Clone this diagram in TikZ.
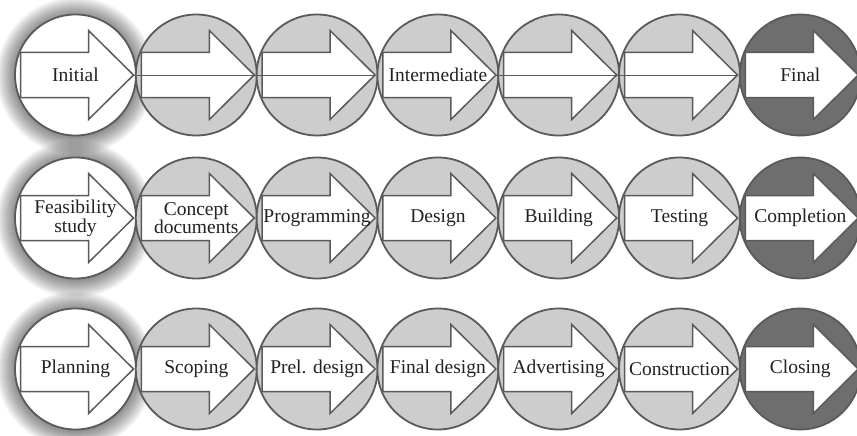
\documentclass[tikz,border=0pt]{standalone}
\usepackage{fontspec}
\setmainfont{Liberation Serif}
\definecolor{edge}{HTML}{5A5A5A}
\definecolor{lightfill}{HTML}{CDCDCD}
\definecolor{darkfill}{HTML}{6E6E6E}
\definecolor{txt}{HTML}{222222}
\tikzset{
  disc/.style={circle, draw=edge, line width=1.8pt, minimum size=121pt, inner sep=0pt},
  arrowshape/.style={draw=edge, line width=1.5pt, fill=white, line join=miter},
  lbl/.style={font=\fontsize{19.5}{17}\selectfont, align=center, inner sep=0pt, text=txt},
  midline/.style={draw=edge, line width=0.9pt},
  glowring/.style={fill=black, opacity=0.028},
}
\newcommand\stagedisc[5]{% name, cx, cy, fill, label
  \node[disc, fill=#4] (#1) at (#2,#3) {};
  \draw[arrowshape, shift={(#2,#3)}] (-55,-22.5) -- (13,-22.5) -- (13,-44.5) -- (58,0)
     -- (13,44.5) -- (13,22.5) -- (-55,22.5) -- cycle;
  \coordinate (#1-tip) at (#2+58,#3);
  \node[lbl] (#1-t) at (#1) {#5};
}
\newcommand\glowat[2]{%
  \foreach \g [evaluate=\g as \r using 60+\g] in {1,...,19} {
    \fill[glowring] (#1,#2+1) circle[radius=\r pt];
  }
}
\begin{document}
\begin{tikzpicture}[x=1pt, y=-1pt]
  \fill[white] (0,0) rectangle (857,436);
  \useasboundingbox (0,0) rectangle (857,436);
  % glows behind the first disc of each row
  \glowat{75.5}{75}
  \glowat{75.5}{218}
  \glowat{75.5}{369}
  % row 1
  \stagedisc{r1c1}{75.5}{75}{white}{Initial}
  \stagedisc{r1c2}{196.3}{75}{lightfill}{}
  \stagedisc{r1c3}{317.1}{75}{lightfill}{}
  \stagedisc{r1c4}{437.9}{75}{lightfill}{Intermediate}
  \stagedisc{r1c5}{558.7}{75}{lightfill}{}
  \stagedisc{r1c6}{679.5}{75}{lightfill}{}
  \stagedisc{r1c7}{800.3}{75}{darkfill}{Final}
  \draw[midline] (r1c1-tip) -- (r1c3-tip);
  \draw[midline] (r1c4-tip) -- (r1c6-tip);
  % row 2
  \stagedisc{r2c1}{75.5}{218}{white}{Feasibility\\study}
  \stagedisc{r2c2}{196.3}{218}{lightfill}{Concept\\documents}
  \stagedisc{r2c3}{317.1}{218}{lightfill}{Programming}
  \stagedisc{r2c4}{437.9}{218}{lightfill}{Design}
  \stagedisc{r2c5}{558.7}{218}{lightfill}{Building}
  \stagedisc{r2c6}{679.5}{218}{lightfill}{Testing}
  \stagedisc{r2c7}{800.3}{218}{darkfill}{Completion}
  % row 3
  \stagedisc{r3c1}{75.5}{369}{white}{Planning}
  \stagedisc{r3c2}{196.3}{369}{lightfill}{Scoping}
  \stagedisc{r3c3}{317.1}{369}{lightfill}{Prel. design}
  \stagedisc{r3c4}{437.9}{369}{lightfill}{Final design}
  \stagedisc{r3c5}{558.7}{369}{lightfill}{Advertising}
  \stagedisc{r3c6}{679.5}{369}{lightfill}{Construction}
  \stagedisc{r3c7}{800.3}{369}{darkfill}{Closing}
\end{tikzpicture}
\end{document}
